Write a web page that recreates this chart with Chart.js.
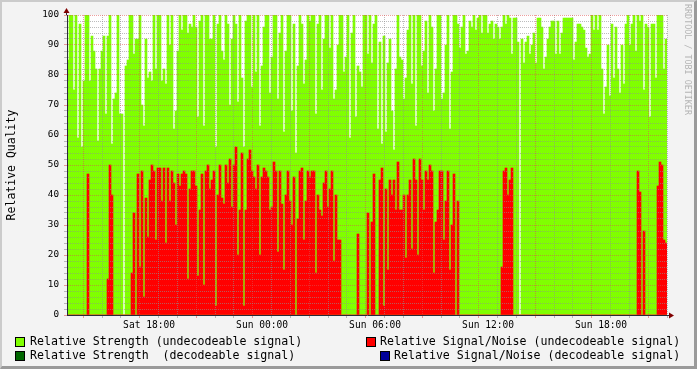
<!DOCTYPE html>
<html>
<head>
<meta charset="utf-8">
<title>Relative Quality</title>
<script src="https://cdn.jsdelivr.net/npm/chart.js@4.4.0/dist/chart.umd.min.js"></script>
<style>
  html, body { margin: 0; padding: 0; }
  body { width: 697px; height: 369px; overflow: hidden; position: relative; font-family: 'DejaVu Sans Mono', monospace; }
  #frame { position: absolute; left: 0; top: 0; width: 697px; height: 369px; box-sizing: border-box;
           background: #f3f3f3; border-top: 2px solid #cbcbcb; border-left: 2px solid #cbcbcb;
           border-right: 3px solid #9a9a9a; border-bottom: 3px solid #9a9a9a; }
  #chart { position: absolute; left: 0; top: 0; }
  .box { position: absolute; width: 8px; height: 8px; border: 1px solid #000; }
  .txt { position: absolute; font-size: 11.6px; line-height: 14px; white-space: pre; color: #000; }
  #mark { position: absolute; left: 683px; top: 4px; writing-mode: vertical-rl; font-size: 8.4px; color: #b4b4b4; white-space: pre; }
</style>
</head>
<body>
<div id="frame"></div>
<canvas id="chart" width="697" height="369"></canvas>
<div id="legend"></div>
<div id="mark">RRDTOOL / TOBI OETIKER</div>
<script>
// samples: one every ~6.4 minutes, Sat 13:38 .. Sun 21:30
const startHour = 13.64;      // hours since Sat 00:00
const stepHours = 0.1062;

// Relative Strength (undecodeable signal)
const strength = [
  85,100,100,75,100,59,97,56,78,100,  100,78,93,88,82,58,82,88,93,67,
  93,100,57,72,74,100,67,67,0,83,     85,100,100,87,92,92,100,70,63,92,
  79,81,78,100,82,100,100,78,82,77,   100,90,100,62,68,88,100,95,100,100,
  94,97,96,100,96,66,98,100,63,100,   100,92,92,100,56,97,100,88,85,100,
  97,70,92,100,97,71,100,79,56,98,    100,100,76,100,81,100,63,83,96,100,
  100,74,86,100,100,72,94,100,61,88,  100,100,68,97,54,83,100,97,77,85,
  100,98,100,100,67,97,100,75,92,100, 100,89,100,72,75,90,100,100,81,86,
  100,59,94,100,66,83,81,76,100,100,  87,100,84,97,100,62,91,57,93,61,
  84,92,68,55,82,100,86,85,72,79,     95,100,77,100,63,100,100,83,88,98,
  74,100,96,68,82,100,100,72,74,90,   100,62,81,100,100,97,89,96,100,87,
  88,98,96,100,95,99,100,94,100,100,  94,97,98,92,97,96,92,96,100,97,
  100,99,87,99,99,91,0,92,84,91,      93,87,90,94,84,99,99,96,82,86,
  92,96,98,98,87,98,87,94,99,99,      99,99,99,85,91,97,97,96,95,89,
  86,87,100,95,100,95,100,82,67,76,   90,73,97,79,96,82,74,90,77,97,
  100,90,97,100,88,100,98,100,75,97,  96,66,97,97,79,100,100,100,82,92
];

// Relative Signal/Noise (undecodeable signal)
const snr = [
  0,0,0,0,0,0,0,0,0,0,                47,0,0,0,0,0,0,0,0,0,
  12,50,40,0,0,0,0,0,0,0,             0,0,14,34,0,47,16,48,6,39,
  26,45,50,48,25,49,49,38,49,24,      49,38,48,44,30,47,43,47,48,47,
  12,42,48,48,43,13,35,47,10,48,      50,42,45,48,3,40,50,39,37,50,
  44,52,36,50,56,20,35,54,3,35,       52,55,48,46,42,50,20,46,49,48,
  46,35,36,51,48,21,48,37,15,40,      48,38,30,46,0,32,48,49,25,38,
  48,46,48,48,14,40,35,33,44,48,      36,42,48,18,40,25,25,0,0,0,
  0,0,0,0,0,27,0,0,0,0,               34,0,31,47,0,0,45,49,3,42,
  15,45,40,45,35,51,35,35,40,19,      40,45,22,52,45,20,52,45,35,48,
  45,50,48,14,31,35,48,48,25,38,      48,15,30,47,0,38,0,0,0,0,
  0,0,0,0,0,0,0,0,0,0,                0,0,0,0,0,0,0,16,48,49,
  40,45,49,0,0,0,0,0,0,0,             0,0,0,0,0,0,0,0,0,0,
  0,0,0,0,0,0,0,0,0,0,                0,0,0,0,0,0,0,0,0,0,
  0,0,0,0,0,0,0,0,0,0,                0,0,0,0,0,0,0,0,0,0,
  0,0,0,0,0,48,41,0,28,0,             0,0,0,0,0,43,51,50,25,24
];

// decodeable signal: no samples in this period
const strengthDecodeable = [];
const snrDecodeable = [];

const seriesNames = [
  'Relative Strength (undecodeable signal)',
  'Relative Signal/Noise (undecodeable signal)',
  'Relative Strength  (decodeable signal)',
  'Relative Signal/Noise (decodeable signal)'
];
const seriesColors = ['#80ff00', '#ff0000', '#006600', '#000099'];

const xLabelHours = [18, 24, 30, 36, 42];
const xTickLabels = ['Sat 18:00', 'Sun 00:00', 'Sun 06:00', 'Sun 12:00', 'Sun 18:00'];
const yTickLabels = [0, 10, 20, 30, 40, 50, 60, 70, 80, 90, 100];

const sampleTimes = strength.map((_, i) => startHour + (i + 0.5) * stepHours);
const endHour = startHour + strength.length * stepHours;

const gridColor = 'rgba(143,143,143,0.6)';
const majorGridColor = 'rgba(222,79,79,0.55)';
const axisColor = '#2a2a38';
const arrowColor = '#800000';

Chart.defaults.font.family = "'DejaVu Sans Mono', monospace";
Chart.defaults.color = '#000';

// white canvas behind the plot, arrows at the axis ends
const rrdFrame = {
  id: 'rrdFrame',
  beforeDraw(chart) {
    const {ctx, chartArea: a} = chart;
    ctx.save();
    ctx.fillStyle = '#fff';
    ctx.fillRect(a.left, a.top, a.right - a.left, a.bottom - a.top);
    ctx.restore();
  },
  afterDraw(chart) {
    const {ctx, chartArea: a} = chart;
    ctx.save();
    ctx.strokeStyle = axisColor;
    ctx.lineWidth = 1;
    ctx.beginPath();
    ctx.moveTo(a.left - 0.5, a.top);
    ctx.lineTo(a.left - 0.5, a.top - 3);
    ctx.moveTo(a.right, a.bottom + 0.5);
    ctx.lineTo(a.right + 3, a.bottom + 0.5);
    ctx.stroke();
    ctx.fillStyle = arrowColor;
    ctx.beginPath();
    ctx.moveTo(a.left - 3.5, a.top - 2);
    ctx.lineTo(a.left + 2.5, a.top - 2);
    ctx.lineTo(a.left - 0.5, a.top - 7);
    ctx.closePath();
    ctx.fill();
    ctx.beginPath();
    ctx.moveTo(a.right + 2, a.bottom - 2.5);
    ctx.lineTo(a.right + 2, a.bottom + 3.5);
    ctx.lineTo(a.right + 7, a.bottom + 0.5);
    ctx.closePath();
    ctx.fill();
    ctx.restore();
  }
};

function barSet(label, data, color, order) {
  return {
    label: label,
    data: data,
    backgroundColor: color,
    borderWidth: 0,
    barPercentage: 1,
    categoryPercentage: 1,
    grouped: false,
    order: order
  };
}

new Chart(document.getElementById('chart'), {
  type: 'bar',
  data: {
    labels: sampleTimes,
    datasets: [
      barSet(seriesNames[0], strength, seriesColors[0], 4),
      barSet(seriesNames[1], snr, seriesColors[1], 3),
      barSet(seriesNames[2], strengthDecodeable, seriesColors[2], 2),
      barSet(seriesNames[3], snrDecodeable, seriesColors[3], 1)
    ]
  },
  options: {
    responsive: false,
    animation: false,
    events: [],
    layout: { padding: { left: 0, right: 30, top: 15, bottom: 0 } },
    plugins: { legend: { display: false }, tooltip: { enabled: false } },
    scales: {
      x: {
        type: 'linear',
        min: startHour,
        max: endHour,
        offset: false,
        afterBuildTicks(scale) {
          const ticks = [];
          for (let h = Math.ceil(startHour); h <= endHour; h++) ticks.push({ value: h });
          scale.ticks = ticks;
        },
        afterFit(scale) { scale.height = 54; },
        grid: {
          z: 1,
          color: (c) => (c.tick && c.tick.value % 3 === 0 ? majorGridColor : gridColor),
          tickColor: (c) => (c.tick && c.tick.value % 3 === 0 ? majorGridColor : gridColor),
          tickLength: 3,
          tickBorderDash: []
        },
        border: { z: 2, color: axisColor, width: 1, dash: [1, 1] },
        ticks: {
          autoSkip: false,
          maxRotation: 0,
          minRotation: 0,
          padding: 2,
          font: { size: 9.6 },
          color: '#000',
          callback: (v) => {
            const k = xLabelHours.indexOf(v);
            return k >= 0 ? xTickLabels[k] : '';
          }
        }
      },
      y: {
        min: 0,
        max: 100,
        afterBuildTicks(scale) {
          const ticks = [];
          for (let v = 0; v <= 100; v += 2) ticks.push({ value: v });
          scale.ticks = ticks;
        },
        afterFit(scale) { scale.width = 67; },
        grid: {
          z: 1,
          color: (c) => (c.tick && c.tick.value % 10 === 0 ? majorGridColor : gridColor),
          tickColor: (c) => (c.tick && c.tick.value % 10 === 0 ? majorGridColor : gridColor),
          tickLength: 3,
          tickBorderDash: []
        },
        border: { z: 2, color: axisColor, width: 1, dash: [1, 1] },
        ticks: {
          autoSkip: false,
          padding: 5,
          font: { size: 9.3 },
          color: '#000',
          callback: (v) => (yTickLabels.indexOf(v) >= 0 ? String(v) : '')
        },
        title: {
          display: true,
          text: 'Relative Quality',
          font: { size: 11.5 },
          color: '#000',
          padding: { top: 5, bottom: 0 }
        }
      }
    }
  },
  plugins: [rrdFrame]
});

// legend laid out the way rrdtool justifies it: two rows, two columns
const legendSpots = [
  { box: [15, 337], text: [30, 334] },
  { box: [366, 337], text: [380, 334] },
  { box: [15, 351], text: [30, 348] },
  { box: [380, 351], text: [394, 348] }
];
const legendEl = document.getElementById('legend');
seriesNames.forEach((name, i) => {
  const spot = legendSpots[i];
  const box = document.createElement('div');
  box.className = 'box';
  box.style.left = spot.box[0] + 'px';
  box.style.top = spot.box[1] + 'px';
  box.style.background = seriesColors[i];
  legendEl.appendChild(box);
  const txt = document.createElement('div');
  txt.className = 'txt';
  txt.style.left = spot.text[0] + 'px';
  txt.style.top = spot.text[1] + 'px';
  txt.textContent = name;
  legendEl.appendChild(txt);
});
</script>
</body>
</html>
